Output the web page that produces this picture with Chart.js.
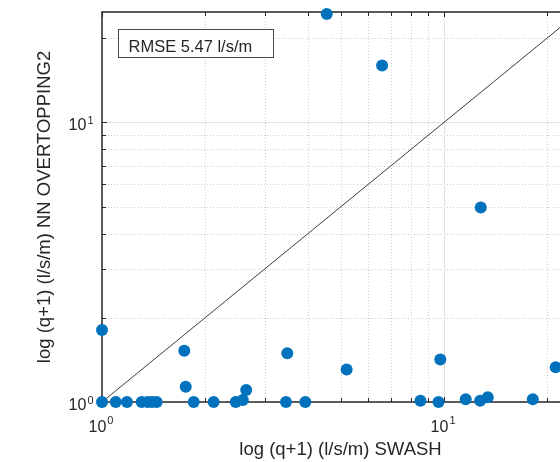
<!DOCTYPE html>
<html>
<head>
<meta charset="utf-8">
<script src="https://cdn.jsdelivr.net/npm/chart.js@4/dist/chart.umd.min.js"></script>
<style>
html,body{margin:0;padding:0;background:#fff;overflow:hidden;width:560px;height:462px;}
canvas{display:block;}
</style>
</head>
<body>
<canvas id="c" width="600" height="462"></canvas>
<script>
// ---- data ----
const swash = [1.0, 1.0, 1.097, 1.183, 1.306, 1.36, 1.40, 1.445, 1.74, 1.757, 1.854, 2.12, 2.46, 2.58, 2.64,
  3.45, 3.48, 3.93, 4.54, 5.19, 6.59, 8.53, 9.63, 9.75, 11.57, 12.75, 12.8, 13.42, 18.17, 21.2];
const nnOvertopping = [1.81, 1.0, 1.0, 1.0, 1.0, 1.0, 1.0, 1.0, 1.525, 1.134, 1.0, 1.0, 1.0, 1.016, 1.104,
  1.0, 1.493, 1.0, 24.4, 1.308, 15.98, 1.01, 1.0, 1.42, 1.022, 1.01, 4.96, 1.039, 1.022, 1.33];
const axisMin = 1;
const axisMax = 24.8;
const majorTicks = [1, 10];
const minorTicks = [2, 3, 4, 5, 6, 7, 8, 9, 20];
const tickExponents = ['0', '1'];
const xTitle = 'log (q+1) (l/s/m) SWASH';
const yTitle = 'log (q+1) (l/s/m) NN OVERTOPPING2';
const annotationText = 'RMSE 5.47 l/s/m';

const FONT = "'Liberation Sans', Arial, Helvetica, sans-serif";
const AXIS_COLOR = '#262626';

const points = swash.map((x, i) => ({x: x, y: nnOvertopping[i]}));
const diag = [{x: axisMin, y: axisMin}, {x: axisMax, y: axisMax}];

const gridAxesPlugin = {
  id: 'gridAxes',
  beforeDatasetsDraw(chart) {
    const {ctx, chartArea: a, scales: {x, y}} = chart;
    ctx.save();
    // minor dotted grid
    ctx.strokeStyle = '#cdcdcd';
    ctx.lineWidth = 1;
    ctx.setLineDash([1, 2]);
    minorTicks.forEach(v => {
      if (v <= axisMax) {
        const px = Math.round(x.getPixelForValue(v)) + 0.5;
        ctx.beginPath(); ctx.moveTo(px, a.top); ctx.lineTo(px, a.bottom); ctx.stroke();
        const py = Math.round(y.getPixelForValue(v)) + 0.5;
        ctx.beginPath(); ctx.moveTo(a.left, py); ctx.lineTo(a.right, py); ctx.stroke();
      }
    });
    // major solid grid
    ctx.setLineDash([]);
    ctx.strokeStyle = '#e2e2e2';
    majorTicks.forEach(v => {
      if (v > axisMin && v < axisMax) {
        const px = Math.round(x.getPixelForValue(v)) + 0.5;
        ctx.beginPath(); ctx.moveTo(px, a.top); ctx.lineTo(px, a.bottom); ctx.stroke();
        const py = Math.round(y.getPixelForValue(v)) + 0.5;
        ctx.beginPath(); ctx.moveTo(a.left, py); ctx.lineTo(a.right, py); ctx.stroke();
      }
    });
    // axes box
    ctx.strokeStyle = AXIS_COLOR;
    ctx.lineWidth = 1.5;
    ctx.strokeRect(a.left, a.top, a.right - a.left, a.bottom - a.top);
    // inward tick marks
    ctx.lineWidth = 1;
    const all = majorTicks.concat(minorTicks).filter(v => v >= axisMin && v <= axisMax);
    all.forEach(v => {
      const len = majorTicks.includes(v) ? 5 : 4;
      const px = Math.round(x.getPixelForValue(v)) + 0.5;
      ctx.beginPath();
      ctx.moveTo(px, a.bottom); ctx.lineTo(px, a.bottom - len);
      ctx.moveTo(px, a.top); ctx.lineTo(px, a.top + len);
      ctx.stroke();
      const py = Math.round(y.getPixelForValue(v)) + 0.5;
      ctx.beginPath();
      ctx.moveTo(a.left, py); ctx.lineTo(a.left + len, py);
      ctx.moveTo(a.right, py); ctx.lineTo(a.right - len, py);
      ctx.stroke();
    });
    ctx.restore();
  },
  afterDraw(chart) {
    const {ctx, chartArea: a, scales: {x, y}} = chart;
    ctx.save();
    ctx.fillStyle = AXIS_COLOR;
    ctx.textBaseline = 'alphabetic';
    const baseFont = '16px ' + FONT;
    const supFont = '11px ' + FONT;
    majorTicks.forEach((v, i) => {
      ctx.font = baseFont;
      const w1 = ctx.measureText('10').width;
      ctx.font = supFont;
      const w2 = ctx.measureText(tickExponents[i]).width;
      const total = w1 + 1 + w2;
      // x-axis label
      const px = x.getPixelForValue(v);
      let sx = px - total / 2 - 1;
      ctx.textAlign = 'left';
      ctx.font = baseFont; ctx.fillText('10', sx, a.bottom + 29.5);
      ctx.font = supFont; ctx.fillText(tickExponents[i], sx + w1 + 1, a.bottom + 22);
      // y-axis label
      const py = y.getPixelForValue(v);
      sx = a.left - 8.5 - total;
      ctx.font = baseFont; ctx.fillText('10', sx, py + 8);
      ctx.font = supFont; ctx.fillText(tickExponents[i], sx + w1 + 1, py + 1.5);
    });
    // RMSE annotation box
    const bx = a.left + 16.5, by = a.top + 17.5, bw = 155, bh = 28;
    ctx.fillStyle = '#ffffff';
    ctx.fillRect(bx, by, bw, bh);
    ctx.strokeStyle = '#4a4a4a';
    ctx.lineWidth = 1;
    ctx.strokeRect(bx, by, bw, bh);
    ctx.fillStyle = AXIS_COLOR;
    ctx.font = '16.5px ' + FONT;
    ctx.textAlign = 'left';
    ctx.fillText(annotationText, bx + 10, by + 22);
    ctx.restore();
  }
};

new Chart(document.getElementById('c'), {
  type: 'scatter',
  data: {
    datasets: [
      {
        data: diag, showLine: true, pointRadius: 0, borderColor: '#3c3c3c', borderWidth: 1,
        order: 2
      },
      {
        data: points, pointRadius: 6, pointHoverRadius: 6, backgroundColor: '#0072BD',
        borderWidth: 0, borderColor: '#0072BD', clip: false, order: 1
      }
    ]
  },
  options: {
    responsive: false,
    animation: false,
    devicePixelRatio: 1,
    layout: {padding: {left: 0, top: 12, right: 21, bottom: 0}},
    plugins: {legend: {display: false}, tooltip: {enabled: false}},
    scales: {
      x: {
        type: 'logarithmic', min: axisMin, max: axisMax, position: 'bottom',
        grid: {display: false}, border: {display: false}, ticks: {display: false},
        title: {display: true, text: xTitle, color: AXIS_COLOR, font: {family: FONT, size: 18.5}, padding: {top: 0, bottom: 1}},
        afterFit(s) { s.height = 60; }
      },
      y: {
        type: 'logarithmic', min: axisMin, max: axisMax, position: 'left',
        grid: {display: false}, border: {display: false}, ticks: {display: false},
        title: {display: true, text: yTitle, color: AXIS_COLOR, font: {family: FONT, size: 18.5}, padding: {top: 34, bottom: 0}},
        afterFit(s) { s.width = 102; }
      }
    }
  },
  plugins: [gridAxesPlugin]
});
</script>
</body>
</html>
